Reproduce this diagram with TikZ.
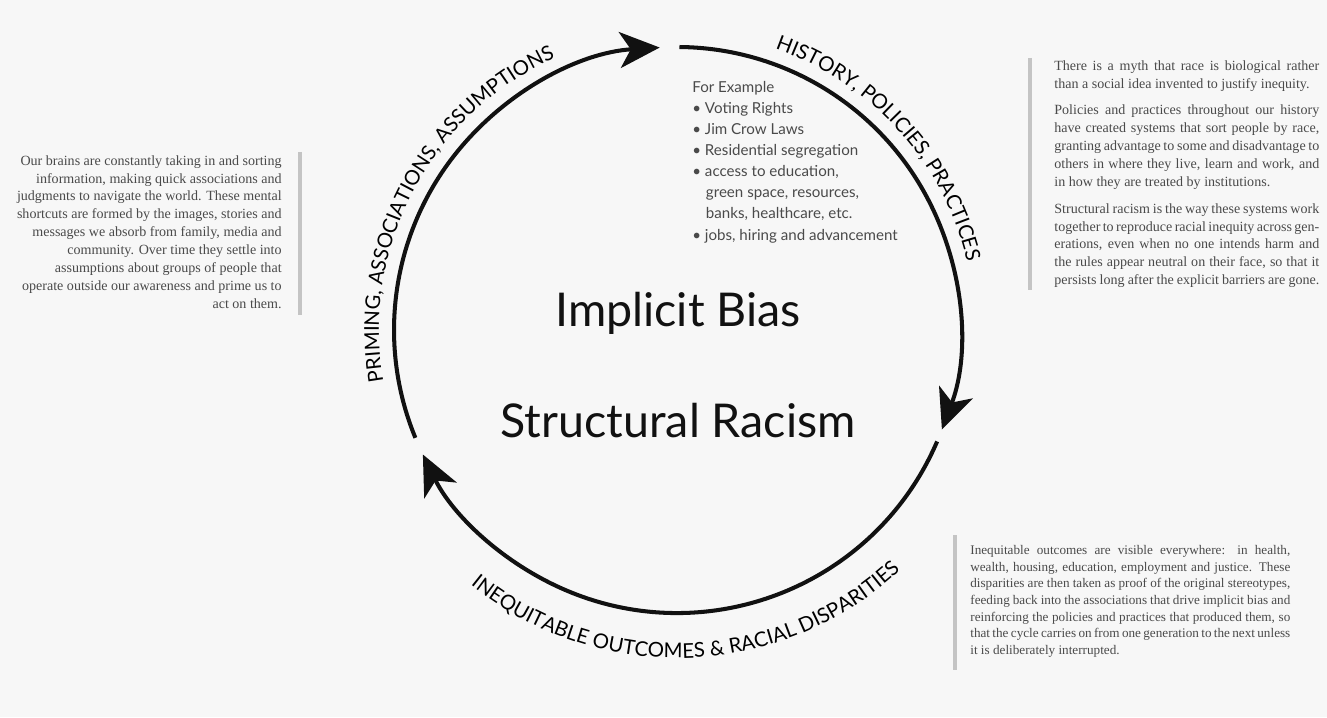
\documentclass[tikz,border=0pt]{standalone}
\usepackage{fontspec}
\setmainfont{Liberation Serif}
\newfontfamily\labelfont{Lato}
\usetikzlibrary{arrows.meta, decorations.text}
\definecolor{paper}{HTML}{F7F7F7}
\definecolor{ink}{HTML}{111111}
\definecolor{notegray}{HTML}{4A4A4A}
\definecolor{rulegray}{HTML}{C4C4C4}

\newcommand{\arcfont}{\labelfont\fontsize{11.6}{13}\selectfont}

\tikzset{
  cyclearc/.style={ink, line width=2.3pt, -{Stealth[length=0.8cm, width=0.72cm, inset=0.22cm]}},
  arclabel/.style={postaction={decorate}, decoration={text along path, text align=center, text={#1}}},
  bigtitle/.style={font=\labelfont\fontsize{26.5}{30}\selectfont, text=ink, anchor=base},
  notetext/.style={font=\fontsize{8}{10.2}\selectfont, text=notegray, inner sep=0pt},
  listtext/.style={font=\labelfont\fontsize{8.6}{12}\selectfont, text=notegray, inner sep=0pt, align=left},
  noterule/.style={rulegray, line width=1.8pt}
}

\begin{document}
\begin{tikzpicture}[x=0.02cm, y=0.02cm]

% Background
\useasboundingbox (0,0) rectangle (1327,717);
\fill[paper] (0,0) rectangle (1327,717);

\coordinate (ctr) at (677,387);

% The three arcs of the cycle
\draw[cyclearc] ([shift={(202.4:283)}]ctr) arc[start angle=202.4, end angle=93.5, radius=283];
\draw[cyclearc] ([shift={(89.5:283)}]ctr) arc[start angle=89.5, end angle=-20.6, radius=283];
\draw[cyclearc] ([shift={(-23.2:283)}]ctr) arc[start angle=-23.2, end angle=-153.9, radius=283];

% Labels along the arcs
\path[arclabel={|\arcfont|PRIMING, ASSOCIATIONS, ASSUMPTIONS}]
  ([shift={(194:298)}]ctr) arc[start angle=194, end angle=110, radius=298];
\path[arclabel={|\arcfont|HISTORY, POLICIES, PRACTICES}]
  ([shift={(76:298)}]ctr) arc[start angle=76, end angle=8, radius=298];
\path[arclabel={|\arcfont|INEQUITABLE OUTCOMES {\&} RACIAL DISPARITIES}]
  ([shift={(222:328)}]ctr) arc[start angle=222, end angle=322, radius=328];

% Centre titles
\node[bigtitle] (bias) at (678,390) {Implicit Bias};
\node[bigtitle] (racism) at (678,280) {Structural Racism};

% Examples inside the circle
\node[listtext, anchor=north west] (examples) at (692,636) {For Example\\
  \textbullet\ Voting Rights\\
  \textbullet\ Jim Crow Laws\\
  \textbullet\ Residential segregation\\
  \textbullet\ access to education,\\
  \hspace*{0.9em}green space, resources,\\
  \hspace*{0.9em}banks, healthcare, etc.\\
  \textbullet\ jobs, hiring and advancement};

% Left note
\draw[noterule] (300,565) -- (300,402);
\node[notetext, anchor=north east, text width=5.4cm, align=flush right] (leftnote) at (282,562)
  {Our brains are constantly taking in and sorting information, making quick
   associations and judgments to navigate the world. These mental shortcuts
   are formed by the images, stories and messages we absorb from family,
   media and community. Over time they settle into assumptions about groups
   of people that operate outside our awareness and prime us to act on them.};

% Upper right note
\draw[noterule] (1030,659) -- (1030,427);
\node[notetext, anchor=north west, text width=5.3cm, align=justify] (rightnote) at (1054,657)
  {There is a myth that race is biological rather than a social idea
   invented to justify inequity.\par\vspace{5pt}
   Policies and practices throughout our history have created systems that
   sort people by race, granting advantage to some and disadvantage to others
   in where they live, learn and work, and in how they are treated by
   institutions.\par\vspace{5pt}
   Structural racism is the way these systems work together to reproduce
   racial inequity across generations, even when no one intends harm and the
   rules appear neutral on their face, so that it persists long after the
   explicit barriers are gone.};

% Lower right note
\draw[noterule] (955,182) -- (955,47);
\node[notetext, anchor=north west, text width=6.4cm, align=justify,
      font=\fontsize{7.5}{9.5}\selectfont] (lowernote) at (970,172)
  {Inequitable outcomes are visible everywhere: in health, wealth, housing,
   education, employment and justice. These disparities are then taken as
   proof of the original stereotypes, feeding back into the associations that
   drive implicit bias and reinforcing the policies and practices that
   produced them, so that the cycle carries on from one generation to the
   next unless it is deliberately interrupted.};

\end{tikzpicture}
\end{document}
